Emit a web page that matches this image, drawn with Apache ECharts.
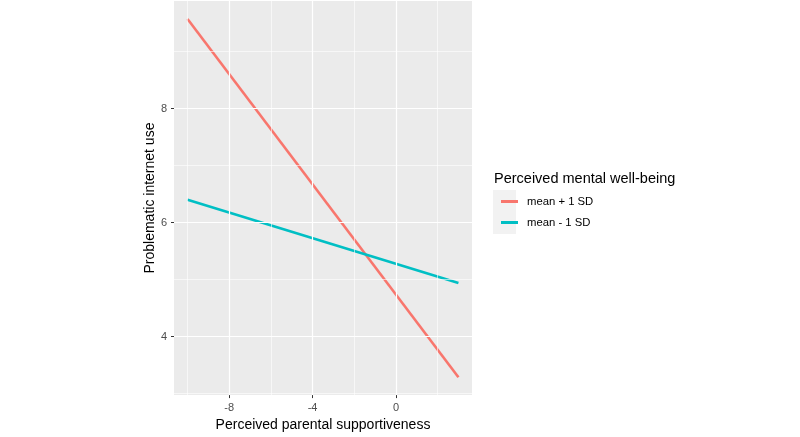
<!DOCTYPE html>
<html><head><meta charset="utf-8">
<script src="https://cdn.jsdelivr.net/npm/echarts@6/dist/echarts.min.js"></script>
<style>html,body{margin:0;padding:0;background:#fff}#c{width:800px;height:437px}</style>
</head><body><div id="c"></div>
<script>
const xValues = [-10, 3];
const seriesNames = ['mean + 1 SD', 'mean - 1 SD'];
const highValues = [9.57, 3.29];
const lowValues = [6.40, 4.94];
const xMajorTicks = [-8, -4, 0];
const xMinorTicks = [-10, -6, -2, 2];
const yMajorTicks = [4, 6, 8];
const yMinorTicks = [3, 5, 7, 9];
const xTitle = 'Perceived parental supportiveness';
const yTitle = 'Problematic internet use';
const legendTitle = 'Perceived mental well-being';

function expand(vals){const mn=Math.min(...vals),mx=Math.max(...vals),d=(mx-mn)*0.05;return [mn-d,mx+d];}
const xr = expand(xValues);
const yr = expand(highValues.concat(lowValues));
const FONT = '"Liberation Sans", Arial, sans-serif';

const chart = echarts.init(document.getElementById('c'), null, {renderer:'canvas'});
function gridLines(vals, axis, width){
  return vals.map(v => ({[axis]: v, lineStyle:{color:'#FFFFFF', width:width, type:'solid'}}));
}
const tickStyle = {show:true, inside:false, length:3, lineStyle:{color:'#333333', width:1}};
chart.setOption({
  animation:false,
  backgroundColor:'#FFFFFF',
  textStyle:{fontFamily:FONT},
  grid:{left:174, right:328, top:1, bottom:35, show:true, backgroundColor:'#EBEBEB', borderWidth:0},
  title:{text:legendTitle, left:494, top:171, padding:0, textStyle:{fontFamily:FONT, fontSize:14.5, fontWeight:'normal', color:'#000'}},
  graphic:[{type:'rect', left:493, top:190, shape:{width:23, height:44}, style:{fill:'#F2F2F2'}, silent:true, z:0}],
  legend:{orient:'vertical', left:496, top:189.5, itemWidth:17, itemHeight:3, itemGap:7, icon:'rect',
    data:seriesNames, selectedMode:false,
    textStyle:{fontFamily:FONT, fontSize:11.3, color:'#000', lineHeight:14, padding:[0,0,0,4]}},
  xAxis:{type:'value', min:xr[0], max:xr[1],
    axisLine:{show:true, onZero:false, lineStyle:{color:'rgba(0,0,0,0)'}}, splitLine:{show:false},
    axisTick:Object.assign({customValues:xMajorTicks}, tickStyle),
    axisLabel:{customValues:xMajorTicks, color:'#4D4D4D', fontSize:11, margin:7, fontFamily:FONT},
    name:xTitle, nameLocation:'middle', nameGap:20, nameTextStyle:{fontFamily:FONT, fontSize:14, color:'#000'}},
  yAxis:{type:'value', min:yr[0], max:yr[1],
    axisLine:{show:true, onZero:false, lineStyle:{color:'rgba(0,0,0,0)'}}, splitLine:{show:false},
    axisTick:Object.assign({customValues:yMajorTicks}, tickStyle),
    axisLabel:{customValues:yMajorTicks, color:'#4D4D4D', fontSize:11, margin:7, fontFamily:FONT},
    name:yTitle, nameLocation:'middle', nameGap:17, nameTextStyle:{fontFamily:FONT, fontSize:14, color:'#000'}},
  series:[
    {type:'line', name:'_grid', data:[], z:1, silent:true,
      markLine:{silent:true, symbol:['none','none'], label:{show:false}, animation:false,
        data: gridLines(xMinorTicks,'xAxis',0.6).concat(gridLines(yMinorTicks,'yAxis',0.6))
          .concat(gridLines(xMajorTicks,'xAxis',1.2)).concat(gridLines(yMajorTicks,'yAxis',1.2))}},
    {type:'line', name:seriesNames[0], data:xValues.map((x,i)=>[x,highValues[i]]), showSymbol:false, z:3,
      lineStyle:{color:'#F8766D', width:2.6}, itemStyle:{color:'#F8766D'}},
    {type:'line', name:seriesNames[1], data:xValues.map((x,i)=>[x,lowValues[i]]), showSymbol:false, z:3,
      lineStyle:{color:'#00BFC4', width:2.6}, itemStyle:{color:'#00BFC4'}}
  ]
});
</script></body></html>
